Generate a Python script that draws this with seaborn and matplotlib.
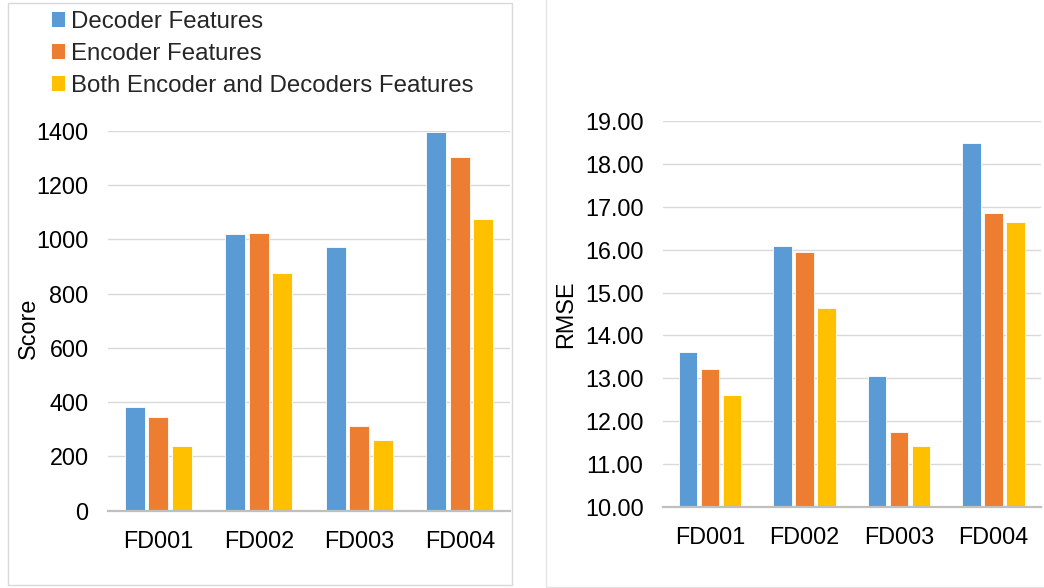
import matplotlib
matplotlib.use("Agg")
import matplotlib.pyplot as plt
from matplotlib.patches import Patch, Rectangle
import seaborn as sns
import pandas as pd

# Datasets and feature configurations
datasets = ["FD001", "FD002", "FD003", "FD004"]
series_names = ["Decoder Features", "Encoder Features", "Both Encoder and Decoders Features"]

score_decoder = [383, 1020, 973, 1396]
score_encoder = [346, 1024, 312, 1304]
score_both = [240, 877, 260, 1076]

rmse_decoder = [13.62, 16.08, 13.05, 18.50]
rmse_encoder = [13.22, 15.94, 11.75, 16.87]
rmse_both = [12.62, 14.64, 11.42, 16.66]

score_ticks = [0, 200, 400, 600, 800, 1000, 1200, 1400]
rmse_ticks = [10, 11, 12, 13, 14, 15, 16, 17, 18, 19]

colors = ["#5B9BD5", "#ED7D31", "#FFC000"]


def long_frame(series_lists):
    rows = []
    for name, values in zip(series_names, series_lists):
        for ds, v in zip(datasets, values):
            rows.append({"Dataset": ds, "Features": name, "Value": v})
    return pd.DataFrame(rows)


score_df = long_frame([score_decoder, score_encoder, score_both])
rmse_df = long_frame([rmse_decoder, rmse_encoder, rmse_both])

sns.set_theme(style="white")
plt.rcParams["font.family"] = ["Liberation Sans", "DejaVu Sans"]

W, H = 1044, 588
fig = plt.figure(figsize=(W / 100, H / 100), dpi=100)


def px_axes(x0, x1, y_top, y_bottom):
    return fig.add_axes([x0 / W, 1 - y_bottom / H, (x1 - x0) / W, (y_bottom - y_top) / H])


ax1 = px_axes(108, 510, 130.7, 510.7)
ax2 = px_axes(663, 1040.7, 121.3, 506.7)

for ax, df in ((ax1, score_df), (ax2, rmse_df)):
    sns.barplot(data=df, x="Dataset", y="Value", hue="Features",
                hue_order=series_names, order=datasets, palette=colors,
                saturation=1, width=0.70, gap=0.16, ax=ax, legend=False,
                edgecolor="white", linewidth=0.6, zorder=3)
    ax.set_xlabel("")
    for s in ("top", "left", "right"):
        ax.spines[s].set_visible(False)
    ax.spines["bottom"].set_color("#bfbfbf")
    ax.spines["bottom"].set_linewidth(1.6)
    ax.spines["bottom"].set_zorder(5)
    ax.yaxis.grid(True, color="#d9d9d9", linewidth=1.0, zorder=0)
    ax.set_axisbelow(True)
    ax.tick_params(axis="both", length=0, labelsize=16.8, colors="black", pad=14)
    ax.set_xlim(-0.5, 3.5)

ax1.set_ylim(0, 1400)
ax1.set_yticks(score_ticks)
ax1.set_yticklabels([str(t) for t in score_ticks])
ax1.set_ylabel("Score", fontsize=16.8, color="black")
ax1.yaxis.label.set_va("center")
ax1.yaxis.set_label_coords(-0.197, 0.48)

ax2.set_ylim(10, 19)
ax2.set_yticks(rmse_ticks)
ax2.set_yticklabels([f"{t:.2f}" for t in rmse_ticks])
ax2.set_ylabel("RMSE", fontsize=16.8, color="black")
ax2.yaxis.label.set_va("center")
ax2.yaxis.set_label_coords(-0.257, 0.5)

# Chart-area frames
fig.add_artist(Rectangle((8 / W, 1 - 585 / H), (512 - 8) / W, (585 - 3) / H,
                         transform=fig.transFigure, fill=False,
                         edgecolor="#d9d9d9", linewidth=1.0))
fig.add_artist(Rectangle((546 / W, 1 - 587 / H), (1060 - 546) / W, (600) / H,
                         transform=fig.transFigure, fill=False,
                         edgecolor="#e4e4e4", linewidth=1.0))

handles = [Patch(facecolor=c, edgecolor="none") for c in colors]
fig.legend(handles, series_names, loc="upper left",
           bbox_to_anchor=(52 / W, 1 - 11 / H), bbox_transform=fig.transFigure,
           frameon=False, fontsize=17.3, borderpad=0, borderaxespad=0,
           handlelength=0.55, handleheight=0.55, handletextpad=0.25,
           labelspacing=0.42)

fig.savefig("out.png", dpi=100)
